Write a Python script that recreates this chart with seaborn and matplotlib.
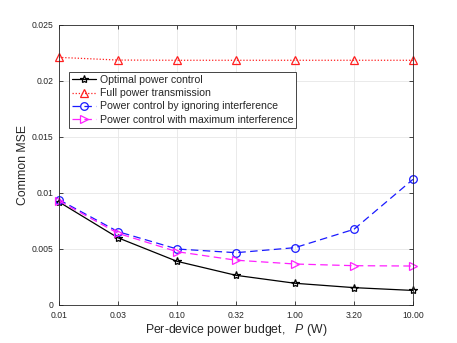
import matplotlib
matplotlib.use("Agg")
import matplotlib.pyplot as plt
import seaborn as sns
import pandas as pd
import numpy as np

power_labels = ["0.01", "0.03", "0.10", "0.32", "1.00", "3.20", "10.00"]
optimal = [0.0092, 0.0060, 0.0039, 0.00265, 0.00194, 0.00155, 0.0013]
full_power = [0.02211, 0.02187, 0.02185, 0.02185, 0.02185, 0.02185, 0.02185]
ignore_intf = [0.0094, 0.00655, 0.0050, 0.00467, 0.00512, 0.00676, 0.01122]
max_intf = [0.0093, 0.0064, 0.00476, 0.0040, 0.00366, 0.00351, 0.00348]

series_names = ["Optimal power control", "Full power transmission",
                "Power control by ignoring interference",
                "Power control with maximum interference"]
series_vals = [optimal, full_power, ignore_intf, max_intf]

sns.set_theme(style="whitegrid")
plt.rcParams['font.family'] = ['Liberation Sans', 'DejaVu Sans']
plt.rcParams['mathtext.fontset'] = 'custom'
plt.rcParams['mathtext.rm'] = 'Liberation Sans'
plt.rcParams['mathtext.it'] = 'Liberation Sans:italic'

fig = plt.figure(figsize=(4.57, 3.43), dpi=100)
ax = fig.add_axes([59/457, 1-305/343, (413-59)/457, (305-25)/343])

styles = [
    dict(color="black", linestyle="-", marker="*", markersize=6),
    dict(color="#ff2020", linestyle=(0, (1, 1.5)), marker="^", markersize=5.5),
    dict(color="#1a1aff", linestyle=(0, (6, 3.5)), marker="o", markersize=5.5),
    dict(color="#ff20ff", linestyle=(0, (6, 3.5)), marker=">", markersize=5.5),
]

x_idx = np.arange(len(power_labels))
for name, vals, st in zip(series_names, series_vals, styles):
    df = pd.DataFrame({"x": x_idx, "y": vals})
    sns.lineplot(data=df, x="x", y="y", ax=ax, label=name,
                 color=st["color"], linestyle=st["linestyle"], linewidth=0.9,
                 marker=st["marker"], markersize=st["markersize"],
                 markerfacecolor="none", markeredgecolor=st["color"],
                 markeredgewidth=0.9, clip_on=False)

ax.set_xlim(0, len(power_labels) - 1)
ax.set_ylim(0, 0.025)
ax.set_xticks(x_idx)
ax.set_xticklabels(power_labels)
ax.set_yticks([0, 0.005, 0.01, 0.015, 0.02, 0.025])
ax.set_yticklabels(["0", "0.005", "0.01", "0.015", "0.02", "0.025"])
ax.tick_params(axis="both", labelsize=6.2, colors="#262626", direction="in",
               length=3, width=0.6, pad=4)
ax.tick_params(top=True, right=True, bottom=True, left=True)
ax.grid(True, color="#e6e6e6", linewidth=0.6)
ax.set_facecolor("white")
for s in ax.spines.values():
    s.set_color("#262626")
    s.set_linewidth(0.6)
    s.set_visible(True)

ax.set_xlabel("Per-device power budget,   $P$ (W)", fontsize=8.8, color="#262626", labelpad=2)
ax.set_ylabel("Common MSE", fontsize=8.8, color="#262626", labelpad=2)

leg = ax.legend(loc="upper left", bbox_to_anchor=((69-59)/354, (305-72)/280),
                fontsize=7.6, frameon=True, fancybox=False, framealpha=1,
                edgecolor="#262626", borderpad=0.3, labelspacing=0.3,
                handlelength=2.3, handletextpad=0.3, borderaxespad=0)
leg.get_frame().set_linewidth(0.6)

fig.savefig("out.png", dpi=100)
